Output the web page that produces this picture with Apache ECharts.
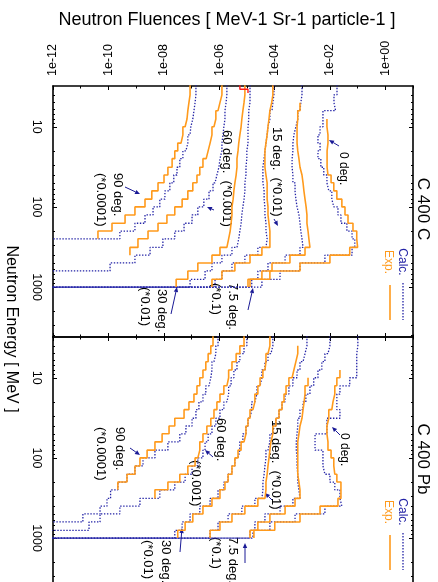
<!DOCTYPE html>
<html><head><meta charset="utf-8">
<script src="https://cdn.jsdelivr.net/npm/echarts@6/dist/echarts.min.js"></script>
<style>html,body{margin:0;padding:0;background:#fff}#c{width:438px;height:582px}</style>
</head><body><div id="c"></div>
<script>
// ---------- axes / ticks ----------
const energyEdges = [3,4,5,6.3,8,10,12.6,16,20,25,32,40,50,63,80,100,126,160,200,250,320,400,500,630,800,1000,1260,1600,2000,2500,3200,4000];
const fluenceTicks = [1e-12,1e-10,1e-8,1e-6,1e-4,1e-2,1];
const fluenceMinorTicks = [1e-11,1e-9,1e-7,1e-5,1e-3,1e-1,10];
const energyTicks = [10,100,1000];
const energyMinorTicks = [4,5,6,7,8,9,20,30,40,50,60,70,80,90,200,300,400,500,600,700,800,900,2000,3000,4000];
const panelTitles = ['C 400 C','C 400 Pb'];

// ---------- C 400 C (fluence per energy bin, 0 = drops to zero) ----------
const cExp0  = [null,null,null,null,7.8e-3,8.5e-3,8.5e-3,7.9e-3,7.9e-3,7.9e-3,8.5e-3,1.1e-2,1.38e-2,1.78e-2,2.7e-2,3.5e-2,4.5e-2,6.8e-2,9.3e-2,0.1,5.2e-2,1e-2,8.3e-4,6.8e-5,1.1e-5];
const cCal0  = [1.8e-2,1.4e-2,1.6e-2,5.6e-3,5.6e-3,4.4e-3,3.7e-3,4.4e-3,3.7e-3,4.7e-3,6e-3,7.8e-3,9.1e-3,1.17e-2,1.38e-2,1.95e-2,2.5e-2,4.1e-2,6.3e-2,7.9e-2,6.3e-2,6.6e-3,8.3e-4,1.58e-4,3.5e-5,0];
const cExp7  = [null,null,8.3e-4,6.9e-4,6.5e-4,6.5e-4,6.5e-4,6.9e-4,7.6e-4,8.3e-4,9.8e-4,1.07e-3,1.15e-3,1.26e-3,1.38e-3,1.48e-3,1.48e-3,1.62e-3,1.74e-3,1.9e-3,1.26e-3,3.6e-4,8.1e-5,3.5e-5,1.3e-5];
const cCal7  = [9.8e-4,8.9e-4,8.3e-4,6.9e-4,5.9e-4,5e-4,4.6e-4,4.6e-4,4.3e-4,4.3e-4,4.6e-4,4.6e-4,5.5e-4,5.9e-4,6.5e-4,7.6e-4,8.3e-4,8.9e-4,9.8e-4,1.07e-3,8.3e-4,2.4e-4,5.8e-5,2.5e-5,1.5e-5,0];
const cExp15 = [8.7e-5,7.9e-5,6.8e-5,6.3e-5,5.8e-5,5.4e-5,4.9e-5,4.5e-5,4.5e-5,4.5e-5,4.9e-5,5.4e-5,5.4e-5,5.4e-5,5.8e-5,5.8e-5,6.3e-5,6.8e-5,6.8e-5,6.8e-5,3.5e-5,1.3e-5,3.7e-6,1.26e-6,5.5e-7];
const cCal15 = [9.5e-5,8.7e-5,8.1e-5,6.8e-5,5.8e-5,5.4e-5,4.9e-5,4.5e-5,4.2e-5,3.8e-5,3.8e-5,3.8e-5,4.2e-5,4.2e-5,4.5e-5,4.5e-5,4.9e-5,4.9e-5,5.4e-5,4.9e-5,2.5e-5,8.5e-6,2.9e-6,1.26e-6,7.1e-7,0];
const cExp30 = [8.5e-6,7.9e-6,7.2e-6,6.6e-6,6.2e-6,5.6e-6,5.1e-6,4.8e-6,4.4e-6,4.4e-6,4.1e-6,3.7e-6,3.4e-6,3.2e-6,2.9e-6,2.9e-6,2.7e-6,2.5e-6,2.2e-6,1.9e-6,1.07e-6,5.5e-7,1.7e-7,7.4e-8,2.8e-8];
const cCal30 = [1.3e-5,1.3e-5,1.17e-5,1.17e-5,1.1e-5,1.1e-5,1.1e-5,1e-5,1e-5,9.3e-6,9.3e-6,8.5e-6,8.5e-6,7.9e-6,7.2e-6,6.6e-6,6.2e-6,5.6e-6,5.1e-6,4.4e-6,2.9e-6,1.26e-6,5.5e-7,3.1e-7,8.9e-8,0];
const cExp60 = [1.26e-6,1.07e-6,9.1e-7,7.6e-7,6.5e-7,5.5e-7,4.7e-7,4e-7,3.4e-7,2.6e-7,2e-7,1.58e-7,1.12e-7,7.4e-8,4.6e-8,2.5e-8,1.3e-8,6.2e-9,2.7e-9,1.17e-9,6e-10];
const cCal60 = [1.9e-6,1.78e-6,1.62e-6,1.62e-6,1.48e-6,1.38e-6,1.26e-6,1.26e-6,1.07e-6,9.8e-7,8.3e-7,7.1e-7,6e-7,4.3e-7,2.8e-7,1.7e-7,1.05e-7,5.4e-8,2.5e-8,9.3e-9,3.2e-9,9.1e-10,1.15e-10,0];
const cExp90 = [8.9e-8,8.1e-8,7.4e-8,6.9e-8,5.9e-8,4.9e-8,4.2e-8,3.2e-8,2.5e-8,2e-8,1.41e-8,1.02e-8,6.2e-9,3.7e-9,2.1e-9,9.1e-10,4e-10,1.35e-10,4.2e-11];
const cCal90 = [1.45e-7,1.35e-7,1.23e-7,1.12e-7,9.5e-8,8.9e-8,7.4e-8,6.3e-8,4.9e-8,3.8e-8,3e-8,2.3e-8,1.66e-8,1.1e-8,7.2e-9,4.1e-9,2.1e-9,9.1e-10,2.6e-10,0];
const cRedEnergies = [3,3.4,3.8];
const cRedValues = [5.6e-6,1.1e-5];

// ---------- C 400 Pb ----------
const pExp0  = [null,null,null,null,2.3e-2,1.78e-2,1.5e-2,1.29e-2,1.17e-2,9.1e-3,7.8e-3,7.8e-3,8.5e-3,8.5e-3,1.1e-2,1.38e-2,1.5e-2,1.78e-2,2.5e-2,2.5e-2,1.95e-2,4.4e-3,8.3e-4,1.02e-4,1.8e-5];
const pCal0  = [0.102,9.3e-2,9.3e-2,9.3e-2,9.3e-2,5.2e-2,2.3e-2,1.78e-2,1.78e-2,2.3e-2,7.8e-3,7.8e-3,2.9e-3,2.9e-3,5.6e-3,5.6e-3,6.6e-3,1e-2,1.5e-2,2.3e-2,2.7e-2,6.6e-3,5.5e-4,6.8e-5,1.66e-5,0];
const pExp7  = [null,null,null,null,null,1.62e-3,1.26e-3,1.17e-3,1.07e-3,9.8e-4,8.3e-4,7.6e-4,6.9e-4,6.9e-4,6.9e-4,6.9e-4,6.9e-4,7.6e-4,8.3e-4,8.3e-4,5.5e-4,2.4e-4,6.8e-5,2.5e-5,1.3e-5];
const pCal7  = [1e-2,8.5e-3,6.6e-3,5.1e-3,3.7e-3,2.6e-3,1.9e-3,1.35e-3,1.07e-3,8.3e-4,6.9e-4,6.5e-4,6.1e-4,6.1e-4,6.5e-4,6.5e-4,6.9e-4,6.9e-4,7.6e-4,8.3e-4,4.6e-4,1.58e-4,4.5e-5,1.95e-5,1.3e-5,0];
const pExp15 = [null,6.9e-4,5.9e-4,5e-4,4.3e-4,3.3e-4,2.6e-4,2.2e-4,1.86e-4,1.45e-4,1.12e-4,8.7e-5,7.4e-5,6.8e-5,6.3e-5,5.8e-5,5.4e-5,4.9e-5,4.9e-5,4.5e-5,2.5e-5,8.5e-6,2.9e-6,1.07e-6,4.7e-7];
const pCal15 = [1.48e-3,1.26e-3,1.07e-3,8.3e-4,6.5e-4,4.6e-4,3.3e-4,2.4e-4,1.86e-4,1.45e-4,1.12e-4,8.7e-5,6.8e-5,5.8e-5,4.9e-5,4.5e-5,4.2e-5,3.8e-5,3.8e-5,3.5e-5,1.95e-5,6.6e-6,2.1e-6,9.1e-7,4.7e-7,0];
const pExp30 = [6.8e-5,5.8e-5,4.9e-5,4.5e-5,3.8e-5,3e-5,2.5e-5,1.95e-5,1.66e-5,1.3e-5,1.1e-5,9.3e-6,7.9e-6,6.2e-6,4.8e-6,3.7e-6,2.9e-6,2.1e-6,1.62e-6,1.07e-6,5.5e-7,2.6e-7,1.12e-7,5.9e-8,3.2e-8];
const pCal30 = [8.7e-5,7.4e-5,5.8e-5,4.5e-5,3.5e-5,3e-5,2.3e-5,1.95e-5,1.5e-5,1.3e-5,1.1e-5,9.3e-6,7.2e-6,5.6e-6,4.8e-6,3.7e-6,2.9e-6,2.1e-6,1.48e-6,9.1e-7,4.7e-7,2e-7,8.9e-8,4.6e-8,2.5e-8,0];
const pExp60 = [7.9e-6,5.6e-6,4.1e-6,2.9e-6,2.2e-6,1.9e-6,1.48e-6,1.07e-6,8.3e-7,6.5e-7,5e-7,3.6e-7,2.6e-7,2e-7,1.7e-7,1.35e-7,7.4e-8,3.8e-8,1.41e-8,4.8e-9];
const pCal60 = [1e-5,7.9e-6,5.6e-6,4.4e-6,3.4e-6,2.7e-6,2.2e-6,1.9e-6,1.48e-6,1.07e-6,7.6e-7,5.5e-7,4e-7,3.1e-7,2.6e-7,1.7e-7,1.05e-7,5.9e-8,2.5e-8,7.2e-9,1.38e-9,2.6e-10,5e-11,2e-11,0];
const pExp90 = [6e-7,5e-7,4e-7,3.3e-7,2.6e-7,2e-7,1.58e-7,1.23e-7,8.1e-8,5.4e-8,2.5e-8,1.55e-8,8.7e-9,4.8e-9,2.5e-9,1.38e-9,9.1e-10,4.7e-10,2.2e-10];
const pCal90 = [9.1e-7,7.6e-7,6.5e-7,5.5e-7,5e-7,4.3e-7,3.3e-7,2.6e-7,1.86e-7,1.45e-7,1.05e-7,6.3e-8,3.8e-8,1.41e-8,4.8e-9,1.78e-9,9.1e-10,4.7e-10,2.2e-10,1.2e-10,8.9e-11,5e-11,1.2e-11,0];

const panels = [
  {calc:[cCal0,cCal7,cCal15,cCal30,cCal60,cCal90], exp:[cExp0,cExp7,cExp15,cExp30,cExp60,cExp90]},
  {calc:[pCal0,pCal7,pCal15,pCal30,pCal60,pCal90], exp:[pExp0,pExp7,pExp15,pExp30,pExp60,pExp90]}
];

// ---------- styling ----------
const FONT = '"Liberation Sans", Arial, Helvetica, sans-serif';
const BLUE = '#2323a6', ORANGE = '#ff9a1c', ARROW = '#1a1a96';
const ZERO = 1e-16;

function stepPoints(vals, edges){
  const pts = [];
  for (let i = 0; i < vals.length; i++) {
    const v = vals[i];
    if (v === null) continue;
    if (v === 0) { pts.push([ZERO, edges[i]]); break; }
    pts.push([v, edges[i]], [v, edges[i + 1]]);
  }
  return pts;
}
function expLabel(v){
  const e = Math.round(Math.log10(v));
  return '1e' + (e < 0 ? '-' : '+') + String(Math.abs(e)).padStart(2, '0');
}

const grids = [
  {left:53, top:86, width:360, height:251, outerBoundsMode:'none', containLabel:false},
  {left:53, top:337, width:360, height:251, outerBoundsMode:'none', containLabel:false}
];
const xAxes = [], yAxes = [];
const lineSt = {color:'#000', width:1.6};
const tickSt = {color:'#000', width:1};
for (let g = 0; g < 2; g++) {
  const bx = {type:'log', logBase:10, gridIndex:g, min:1e-12, max:10, splitLine:{show:false}, minorTick:{show:false}};
  xAxes.push(Object.assign({}, bx, {position:'top', axisLine:{show:true, onZero:false, lineStyle:lineSt},
    axisTick:{show:true, inside:true, length:4, customValues:fluenceTicks, lineStyle:tickSt},
    axisLabel:{show:g===0, customValues:fluenceTicks, rotate:-90, formatter:expLabel, fontSize:12.5, fontFamily:FONT, color:'#000', margin:10}}));
  xAxes.push(Object.assign({}, bx, {position:'top', axisLine:{show:false},
    axisTick:{show:true, inside:true, length:2.5, customValues:fluenceMinorTicks, lineStyle:tickSt}, axisLabel:{show:false}}));
  xAxes.push(Object.assign({}, bx, {position:'bottom', axisLine:{show:true, onZero:false, lineStyle:lineSt},
    axisTick:{show:true, inside:true, length:4, customValues:fluenceTicks, lineStyle:tickSt}, axisLabel:{show:false}}));
  xAxes.push(Object.assign({}, bx, {position:'bottom', axisLine:{show:false},
    axisTick:{show:true, inside:true, length:2.5, customValues:fluenceMinorTicks, lineStyle:tickSt}, axisLabel:{show:false}}));

  const by = {type:'log', logBase:10, gridIndex:g, min:3.1, max:4200, inverse:true, splitLine:{show:false}, minorTick:{show:false}};
  yAxes.push(Object.assign({}, by, {position:'left', axisLine:{show:true, onZero:false, lineStyle:lineSt},
    axisTick:{show:true, inside:true, length:4, customValues:energyTicks, lineStyle:tickSt},
    axisLabel:{show:true, customValues:energyTicks, rotate:-90, formatter:v => String(Math.round(v)), fontSize:12.5, fontFamily:FONT, color:'#000', margin:10}}));
  yAxes.push(Object.assign({}, by, {position:'left', axisLine:{show:false},
    axisTick:{show:true, inside:true, length:2, customValues:energyMinorTicks, lineStyle:tickSt}, axisLabel:{show:false}}));
  yAxes.push(Object.assign({}, by, {position:'right', axisLine:{show:true, onZero:false, lineStyle:lineSt},
    axisTick:{show:true, inside:true, length:4, customValues:energyTicks, lineStyle:tickSt}, axisLabel:{show:false}}));
  yAxes.push(Object.assign({}, by, {position:'right', axisLine:{show:false},
    axisTick:{show:true, inside:true, length:2, customValues:energyMinorTicks, lineStyle:tickSt}, axisLabel:{show:false}}));
}

const series = [];
panels.forEach((p, g) => {
  p.calc.forEach(vals => series.push({type:'line', xAxisIndex:4*g, yAxisIndex:4*g, data:stepPoints(vals, energyEdges),
    symbol:'none', showSymbol:false, clip:true, silent:true, animation:false,
    lineStyle:{color:BLUE, width:1.3, type:[1.4,1.6]}}));
  p.exp.forEach(vals => series.push({type:'line', xAxisIndex:4*g, yAxisIndex:4*g, data:stepPoints(vals, energyEdges),
    symbol:'none', showSymbol:false, clip:true, silent:true, animation:false,
    lineStyle:{color:ORANGE, width:1.6}}));
});
series.push({type:'line', xAxisIndex:0, yAxisIndex:0, data:stepPoints(cRedValues, cRedEnergies),
  symbol:'none', clip:true, silent:true, animation:false, lineStyle:{color:'#ff1a1a', width:1.4}});

// ---------- text / annotations ----------
const R = -Math.PI / 2;
function txt(x, y, text, size, color, align){
  return {type:'text', x:x, y:y, rotation:R, silent:true,
    style:{text:text, fill:color||'#000', font:size+'px '+FONT, textAlign:align||'left', align:align||'left',
      textVerticalAlign:'middle', verticalAlign:'middle'}};
}
function arrow(x1, y1, x2, y2){
  const a = Math.atan2(y2 - y1, x2 - x1), L = 5, W = 2.2;
  const bx = x2 - L*Math.cos(a), byy = y2 - L*Math.sin(a);
  return [
    {type:'line', silent:true, shape:{x1:x1, y1:y1, x2:bx, y2:byy}, style:{stroke:ARROW, lineWidth:1}},
    {type:'polygon', silent:true, shape:{points:[[x2,y2],[bx - W*Math.sin(a), byy + W*Math.cos(a)],[bx + W*Math.sin(a), byy - W*Math.cos(a)]]}, style:{fill:ARROW}}
  ];
}
const graphics = [
  {type:'text', x:227, y:20, silent:true, style:{text:'Neutron Fluences [ MeV-1 Sr-1 particle-1 ]', fill:'#000', font:'18px '+FONT, textAlign:'center', align:'center', textVerticalAlign:'middle', verticalAlign:'middle'}},
  txt(11, 329, 'Neutron Energy [ MeV ]', 16, '#000', 'center')
];
const AN = 13;
[0, 250].forEach((d, g) => {
  graphics.push(txt(423, 209 + d, panelTitles[g], 17, '#000', 'center'));
  graphics.push(txt(402, 262 + d, 'Calc.', 12, BLUE, 'center'));
  graphics.push(txt(388, 262 + d, 'Exp.', 12, ORANGE, 'center'));
  graphics.push({type:'line', silent:true, shape:{x1:403, y1:283+d, x2:403, y2:320+d}, style:{stroke:BLUE, lineWidth:1.3, lineDash:[1.4,1.6]}});
  graphics.push({type:'line', silent:true, shape:{x1:390, y1:285+d, x2:390, y2:320+d}, style:{stroke:ORANGE, lineWidth:1.6}});
});
// panel 1 labels
graphics.push(txt(343, 152, '0 deg.', 12));
graphics.push(txt(277, 127, '15 deg.  (*0.01)', AN));
graphics.push(txt(227, 130, '60 deg.  (*0.001)', AN));
graphics.push(txt(118, 173, '90 deg.', AN));
graphics.push(txt(101, 173, '(*0.0001)', AN));
graphics.push(txt(162, 289, '30 deg.', AN));
graphics.push(txt(145, 287, '(*0.01)', AN));
graphics.push(txt(233, 283, '7.5 deg.', AN));
graphics.push(txt(216, 283, '(*0.1)', AN));
// panel 2 labels
graphics.push(txt(344, 433, '0 deg.', 12));
graphics.push(txt(276, 420, '15 deg.  (*0.01)', AN));
graphics.push(txt(221, 418, '60 deg.', AN));
graphics.push(txt(196, 460, '(*0.001)', AN));
graphics.push(txt(120, 427, '90 deg.', AN));
graphics.push(txt(101, 427, '(*0.0001)', AN));
graphics.push(txt(166, 540, '30 deg.', AN));
graphics.push(txt(148, 540, '(*0.01)', AN));
graphics.push(txt(233, 537, '7.5 deg.', AN));
graphics.push(txt(216, 537, '(*0.1)', AN));
// arrows
[[339,146,329,140],[274,219,278,226],[214,210,207,207],[125,187,140,194],[171,314,177,287],[248,310,253,288],
 [340,435,332,427],[272,500,265,493],[213,457,205,450],[130,448,140,455],[180,552,182,528],[245,563,245,543]]
 .forEach(a => graphics.push(...arrow(a[0],a[1],a[2],a[3])));

const chart = echarts.init(document.getElementById('c'), null, {renderer:'canvas', width:438, height:582});
chart.setOption({
  animation:false,
  backgroundColor:'#fff',
  grid:grids, xAxis:xAxes, yAxis:yAxes, series:series, graphic:graphics
});
</script></body></html>
